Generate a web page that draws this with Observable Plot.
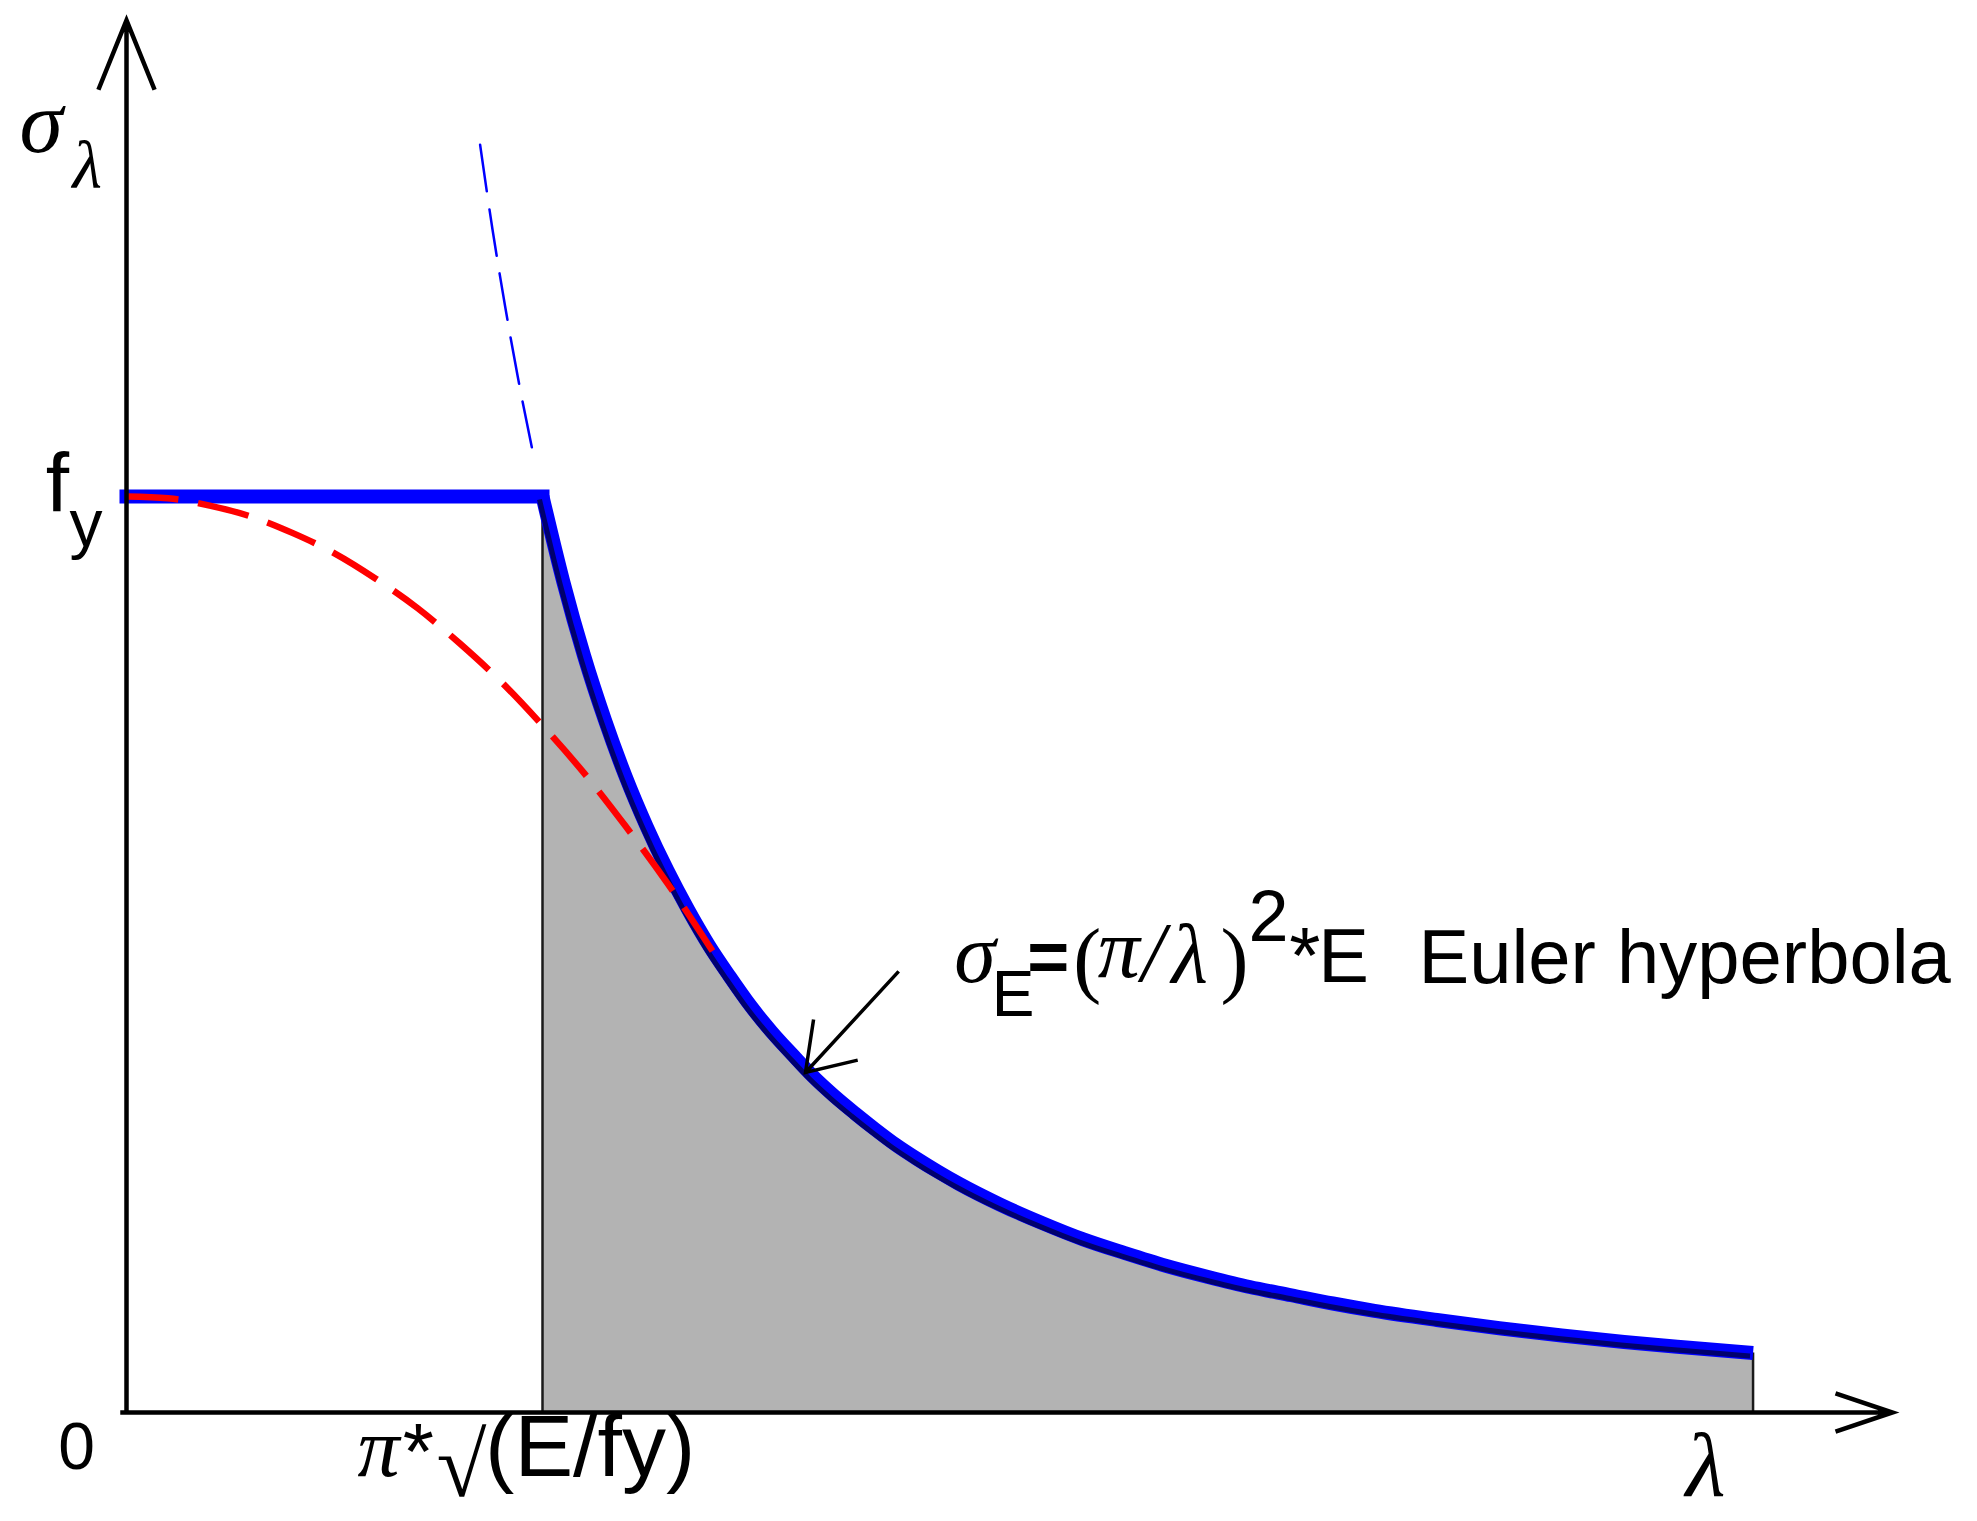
<!DOCTYPE html>
<html>
<head>
<meta charset="utf-8">
<script src="https://cdn.jsdelivr.net/npm/d3@7"></script>
<script src="https://cdn.jsdelivr.net/npm/@observablehq/plot@0.6"></script>
<style>
  html, body { margin: 0; padding: 0; background: #ffffff; }
  #chart svg { display: block; }
</style>
</head>
<body>
<div id="chart"></div>
<script>
// ---------- data (slenderness λ in units of λc = π·√(E/fy); stress σ in units of fy) ----------
const eulerLambda = [1.00, 1.05, 1.10, 1.15, 1.20, 1.25, 1.30, 1.35, 1.40, 1.45, 1.50, 1.55, 1.60, 1.65, 1.70, 1.75, 1.80, 1.85, 1.90, 1.95, 2.00,
                     2.10, 2.20, 2.30, 2.40, 2.50, 2.60, 2.70, 2.80, 2.90, 3.00, 3.15, 3.30, 3.45, 3.60, 3.75, 3.91];
const eulerSigma  = [1.000, 0.907, 0.826, 0.756, 0.694, 0.640, 0.592, 0.549, 0.510, 0.476, 0.444, 0.416, 0.391, 0.367, 0.346, 0.327, 0.309, 0.292, 0.277, 0.263, 0.250,
                     0.227, 0.207, 0.189, 0.174, 0.160, 0.148, 0.137, 0.128, 0.119, 0.111, 0.101, 0.092, 0.084, 0.077, 0.071, 0.065];
const plateauLambda = [0.00, 1.00];
const plateauSigma  = [1.000, 1.000];
const extLambda = [0.850, 0.880, 0.910, 0.940, 0.976];
const extSigma  = [1.384, 1.291, 1.208, 1.132, 1.050];
const johnsonLambda = [0.00, 0.10, 0.20, 0.30, 0.40, 0.50, 0.60, 0.70, 0.80, 0.90, 1.00, 1.10, 1.20, 1.30, 1.414];
const johnsonSigma  = [1.000, 0.998, 0.990, 0.978, 0.960, 0.938, 0.910, 0.878, 0.840, 0.798, 0.750, 0.698, 0.640, 0.578, 0.500];
const edgeLambda = [1.00, 3.91];
const edgeSigma  = [1.000, 0.065];
const axisLabels = ["0", "f", "y", "σ", "λ", "π", "*", "√", "(E/fy)", "λ"];
const annotationParts = ["σ", "E", "=", "(", "π", "/", "λ", ")", "2", "*", "E", "Euler hyperbola"];

// ---------- tables ----------
const zip = (xs, ys) => xs.map((x, i) => ({lambda: x, sigma: ys[i]}));
const euler = zip(eulerLambda, eulerSigma);
const plateau = zip(plateauLambda, plateauSigma);
const ext = zip(extLambda, extSigma);
const johnson = zip(johnsonLambda, johnsonSigma);
const edges = zip(edgeLambda, edgeSigma);

// ---------- layout (data units) ----------
const SANS = "Liberation Sans, Arial, Helvetica, sans-serif";
const SERIF = "Liberation Serif, Times New Roman, serif";
const axes = [
  {x1: 0, y1: 0, x2: 0, y2: 1.52, hl: 25, ha: 44},
  {x1: -0.015, y1: 0, x2: 4.245, y2: 0, hl: 20, ha: 37}
];
const pointer = [{x1: 2.0794, y1: 0.5916, x2: 1.6322, y2: 0.3712}];

const labelLayout = [
  {x: -0.120, y: -0.062, font: SANS, size: 66, style: "normal", anchor: "middle"},   // 0
  {x: -0.194, y: 0.9836, font: SANS, size: 84, style: "normal", anchor: "start"},    // f
  {x: -0.137, y: 0.946, font: SANS, size: 66, style: "normal", anchor: "start"},     // y
  {x: -0.257, y: 1.3766, font: SERIF, size: 88, style: "italic", anchor: "start"},   // σ
  {x: -0.130, y: 1.337, font: SERIF, size: 68, style: "italic", anchor: "start"},    // λ sub
  {x: 0.555, y: -0.0688, font: SERIF, size: 84, style: "italic", anchor: "start"},   // π
  {x: 0.664, y: -0.0730, font: SANS, size: 80, style: "normal", anchor: "start"},    // *
  {x: 0.745, y: -0.0910, font: SERIF, size: 91, style: "normal", anchor: "start"},   // √
  {x: 0.862, y: -0.0688, font: SANS, size: 88, style: "normal", anchor: "start"},    // (E/fy)
  {x: 3.796, y: -0.0915, font: SERIF, size: 92, style: "italic", anchor: "middle"}   // λ
];
const annotationLayout = [
  {x: 1.990, y: 0.4705, font: SERIF, size: 84, style: "italic"},
  {x: 2.080, y: 0.4334, font: SANS, size: 64, style: "normal"},
  {x: 2.165, y: 0.4716, font: SANS, size: 72, style: "normal", weight: "bold"},
  {x: 2.276, y: 0.4640, font: SERIF, size: 84, style: "normal"},
  {x: 2.335, y: 0.4749, font: SERIF, size: 84, style: "italic"},
  {x: 2.440, y: 0.4716, font: SERIF, size: 84, style: "italic"},
  {x: 2.512, y: 0.4705, font: SERIF, size: 84, style: "italic"},
  {x: 2.630, y: 0.4640, font: SERIF, size: 84, style: "normal"},
  {x: 2.697, y: 0.5150, font: SANS, size: 72, style: "normal"},
  {x: 2.795, y: 0.4690, font: SANS, size: 80, style: "normal"},
  {x: 2.865, y: 0.4705, font: SANS, size: 76, style: "normal"},
  {x: 3.1058, y: 0.4694, font: SANS, size: 76, style: "normal"}
];

function textMarks(texts, layout, defaultAnchor) {
  return texts.map((t, i) => {
    const L = layout[i];
    return Plot.text([{t, x: L.x, y: L.y}], {
      x: "x", y: "y", text: "t",
      fontFamily: L.font, fontSize: L.size, fontStyle: L.style, fontWeight: L.weight || "normal",
      textAnchor: L.anchor || defaultAnchor, lineAnchor: "bottom", fill: "#000000"
    });
  });
}

const chart = Plot.plot({
  width: 1977,
  height: 1521,
  margin: 0,
  style: {background: "#ffffff", overflow: "visible"},
  x: {type: "linear", domain: [0, 1], range: [126, 542], axis: null},
  y: {type: "linear", domain: [0, 1], range: [1412, 496], axis: null},
  marks: [
    Plot.areaY(euler, {x: "lambda", y: "sigma", fill: "#b3b3b3", curve: "monotone-x"}),
    Plot.ruleX(edges, {x: "lambda", y1: 0, y2: "sigma", stroke: "#1a1a1a", strokeWidth: 2.5}),
    Plot.line(plateau, {x: "lambda", y: "sigma", stroke: "#0000ff", strokeWidth: 14, strokeLinecap: "square"}),
    Plot.line(euler, {x: "lambda", y: "sigma", stroke: "#0000ff", strokeWidth: 14, curve: "monotone-x", strokeLinecap: "butt"}),
    Plot.line(euler, {x: "lambda", y: "sigma", stroke: "#00006e", strokeWidth: 5, dx: -3, dy: 3, curve: "monotone-x", strokeLinecap: "butt"}),
    Plot.line(ext, {x: "lambda", y: "sigma", stroke: "#0000ff", strokeWidth: 2.5, strokeDasharray: "47,18", curve: "monotone-x"}),
    Plot.line(johnson, {x: "lambda", y: "sigma", stroke: "#ff0000", strokeWidth: 6.5, strokeDasharray: "52,20", strokeLinecap: "butt", curve: "monotone-x"}),
    ...axes.map(a => Plot.arrow([a], {x1: "x1", y1: "y1", x2: "x2", y2: "y2", stroke: "#000000", strokeWidth: 4.5,
      headLength: a.hl, headAngle: a.ha, strokeLinecap: "butt", strokeLinejoin: "miter", strokeMiterlimit: 10})),
    Plot.arrow(pointer, {x1: "x1", y1: "y1", x2: "x2", y2: "y2", stroke: "#000000", strokeWidth: 3.5,
      headLength: 23, headAngle: 68, insetStart: 137, strokeLinecap: "butt", strokeLinejoin: "miter", strokeMiterlimit: 10}),
    ...textMarks(axisLabels, labelLayout, "start"),
    ...textMarks(annotationParts, annotationLayout, "start")
  ]
});
document.getElementById("chart").appendChild(chart);
</script>
</body>
</html>
